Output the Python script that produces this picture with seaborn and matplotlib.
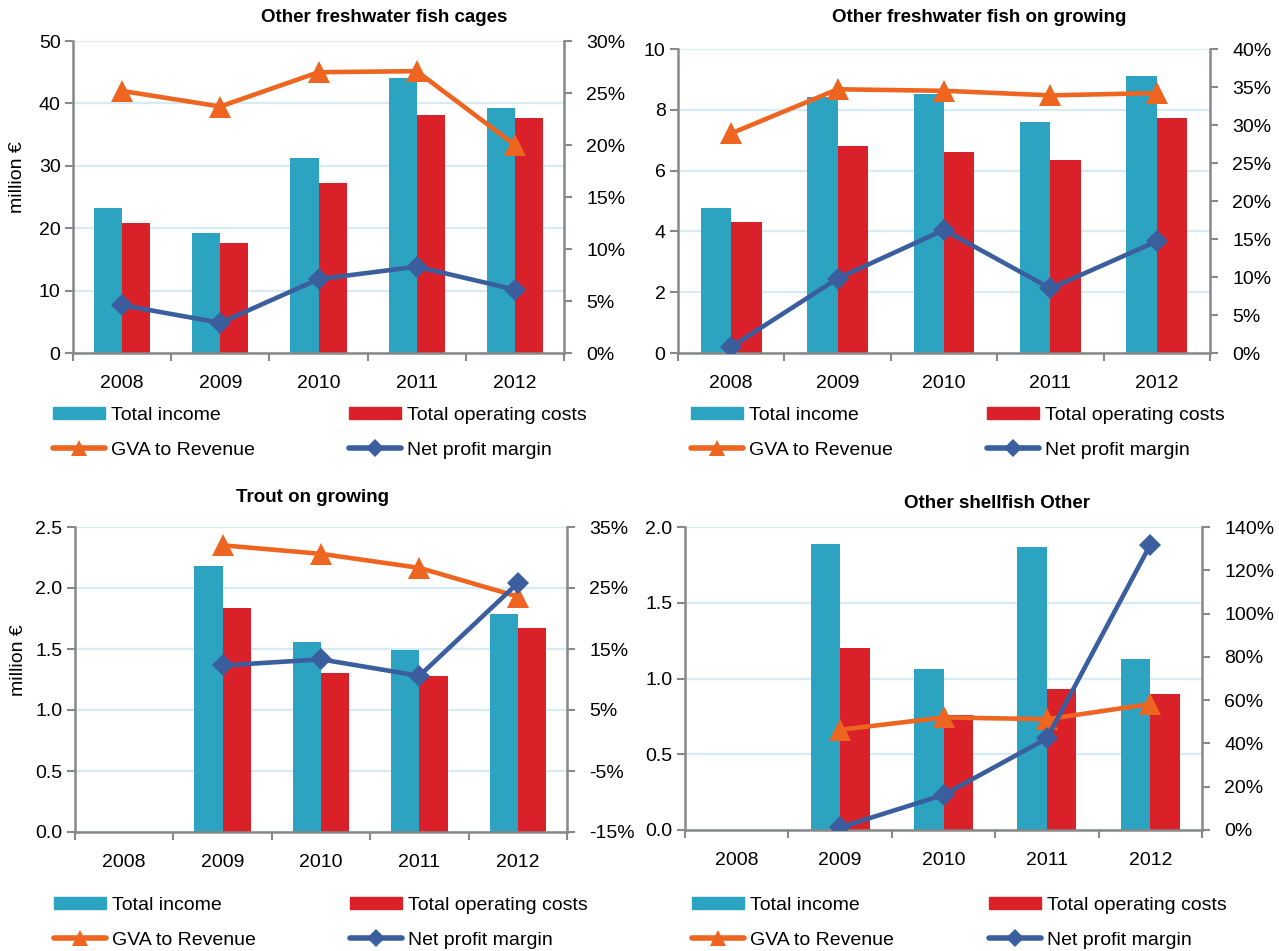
import numpy as np
import pandas as pd
import matplotlib
matplotlib.use('Agg')
import matplotlib.pyplot as plt
import seaborn as sns
from matplotlib.lines import Line2D
from matplotlib.patches import Patch
from matplotlib.ticker import FuncFormatter

# data (million EUR / percent)
years = ['2008', '2009', '2010', '2011', '2012']

cages_income = [23.2, 19.3, 31.2, 44.1, 39.2]
cages_costs = [20.9, 17.7, 27.3, 38.2, 37.6]
cages_gva = [25.2, 23.7, 27.0, 27.1, 20.0]
cages_npm = [4.6, 2.9, 7.1, 8.3, 6.1]

ongrow_income = [4.76, 8.42, 8.52, 7.60, 9.10]
ongrow_costs = [4.31, 6.81, 6.61, 6.34, 7.73]
ongrow_gva = [28.9, 34.7, 34.5, 33.9, 34.2]
ongrow_npm = [0.8, 9.8, 16.2, 8.5, 14.7]

trout_income = [np.nan, 2.18, 1.56, 1.49, 1.79]
trout_costs = [np.nan, 1.84, 1.30, 1.28, 1.67]
trout_gva = [np.nan, 32.0, 30.6, 28.3, 23.6]
trout_npm = [np.nan, 12.3, 13.3, 10.6, 25.8]

shell_income = [np.nan, 1.89, 1.06, 1.87, 1.13]
shell_costs = [np.nan, 1.20, 0.76, 0.93, 0.90]
shell_gva = [np.nan, 46.3, 52.0, 51.2, 58.2]
shell_npm = [np.nan, 1.2, 16.2, 42.3, 131.8]

bar_names = ['Total income', 'Total operating costs']
line_names = ['GVA to Revenue', 'Net profit margin']

TEAL = '#2CA3C0'
RED = '#DA2029'
ORANGE = '#ED6520'
BLUE = '#3A5E9E'
GREY = '#888888'
GRID = '#D5ECF4'

sns.set_theme(style='white')
plt.rcParams['font.family'] = ['Liberation Sans', 'DejaVu Sans']
plt.rcParams['text.color'] = 'black'
plt.rcParams['axes.labelcolor'] = 'black'
FS = 14

W, H = 1279, 951
fig = plt.figure(figsize=(W / 100, H / 100), dpi=100)


def panel(box, title, title_xy, income, costs, gva, npm,
          yticks, yfmt, rticks, ylabel, leg_x, leg_top):
    l, r, t, b = box
    ax = fig.add_axes([l / W, 1 - b / H, (r - l) / W, (b - t) / H])

    df = pd.DataFrame({
        'year': years * 2,
        'series': [bar_names[0]] * len(years) + [bar_names[1]] * len(years),
        'value': list(income) + list(costs),
    })
    sns.barplot(data=df, x='year', y='value', hue='series', order=years,
                hue_order=bar_names, palette=[TEAL, RED], saturation=1,
                width=2 / 3.5, gap=0, errorbar=None, legend=False,
                linewidth=0, ax=ax)

    ax2 = ax.twinx()
    pos = np.arange(len(years))
    sns.lineplot(x=pos, y=gva, ax=ax2, color=ORANGE, linewidth=3.3,
                 marker='^', markersize=15.5, markeredgewidth=0)
    sns.lineplot(x=pos, y=npm, ax=ax2, color=BLUE, linewidth=3.3,
                 marker='D', markersize=11, markeredgewidth=0)

    # left axis
    ax.set_xlim(-0.5, len(years) - 0.5)
    ax.set_ylim(yticks[0], yticks[-1])
    ax.set_yticks(yticks)
    ax.yaxis.set_major_formatter(FuncFormatter(lambda v, _: yfmt.format(v)))
    ax.yaxis.grid(True, color=GRID, linewidth=1.6)
    ax.xaxis.grid(False)
    ax.set_axisbelow(True)
    ax.set_xlabel('')
    ax.set_ylabel('')
    ax.set_xticks(np.arange(-0.5, len(years), 1))
    ax.set_xticklabels([''] * (len(years) + 1))
    ax.set_xticks(pos, minor=True)
    ax.set_xticklabels(years, minor=True, fontsize=FS)
    ax.tick_params(axis='x', which='major', length=6, width=1.5,
                   color=GREY, direction='out', bottom=True)
    ax.tick_params(axis='x', which='minor', length=0, pad=16,
                   labelcolor='black')
    ax.tick_params(axis='y', length=6, width=1.5, color=GREY,
                   direction='out', left=True, labelsize=FS, pad=3,
                   labelcolor='black')
    for s in ['top', 'right']:
        ax.spines[s].set_visible(False)
    for s in ['left', 'bottom']:
        ax.spines[s].set_color(GREY)
        ax.spines[s].set_linewidth(1.8)
    if ylabel:
        ax.set_ylabel(ylabel, fontsize=FS, va='center')
        ax.yaxis.set_label_coords((18 - l) / (r - l), 0.563)

    # right axis
    ax2.set_ylim(rticks[0], rticks[-1])
    ax2.set_yticks(rticks)
    ax2.yaxis.set_major_formatter(FuncFormatter(lambda v, _: f'{v:.0f}%'))
    ax2.set_ylabel('')
    ax2.grid(False)
    ax2.tick_params(axis='y', length=6, width=1.5, color=GREY,
                    direction='out', right=True, labelsize=FS, pad=10,
                    labelcolor='black')
    for s in ['top', 'left', 'bottom']:
        ax2.spines[s].set_visible(False)
    ax2.spines['right'].set_color(GREY)
    ax2.spines['right'].set_linewidth(1.8)

    fig.text(title_xy[0] / W, 1 - title_xy[1] / H, title, ha='center',
             va='center', fontsize=13.5, fontweight='bold')

    h_income = Patch(color=TEAL)
    h_costs = Patch(color=RED)
    h_gva = Line2D([], [], color=ORANGE, linewidth=4, marker='^',
                   markersize=12, markeredgewidth=0)
    h_npm = Line2D([], [], color=BLUE, linewidth=4, marker='D',
                   markersize=9, markeredgewidth=0)
    cols = [([h_income, h_gva], [bar_names[0], line_names[0]]),
            ([h_costs, h_npm], [bar_names[1], line_names[1]])]
    for x, (hs, ls) in zip(leg_x, cols):
        fig.legend(hs, ls, loc='upper left',
                   bbox_to_anchor=(x / W, 1 - leg_top / H),
                   frameon=False, fontsize=FS, borderpad=0,
                   borderaxespad=0, handlelength=2.65, handleheight=0.6,
                   handletextpad=0.35, labelspacing=0.92)
    return ax, ax2


panel((73, 564, 41, 353), 'Other freshwater fish cages', (384, 18),
      cages_income, cages_costs, cages_gva, cages_npm,
      np.arange(0, 51, 10), '{:.0f}', np.arange(0, 31, 5), 'million €',
      (53, 349), 407)

panel((678, 1210, 49, 353), 'Other freshwater fish on growing', (979, 17),
      ongrow_income, ongrow_costs, ongrow_gva, ongrow_npm,
      np.arange(0, 11, 2), '{:.0f}', np.arange(0, 41, 5), None,
      (691, 987), 407)

panel((75, 567, 527, 832), 'Trout on growing', (313, 497),
      trout_income, trout_costs, trout_gva, trout_npm,
      np.arange(0, 2.51, 0.5), '{:.1f}', np.arange(-15, 36, 10), 'million €',
      (54, 350), 897)

panel((685, 1202, 527, 830), 'Other shellfish Other', (997, 503),
      shell_income, shell_costs, shell_gva, shell_npm,
      np.arange(0, 2.01, 0.5), '{:.1f}', np.arange(0, 141, 20), None,
      (692, 989), 897)

fig.savefig('out.png', dpi=100)
